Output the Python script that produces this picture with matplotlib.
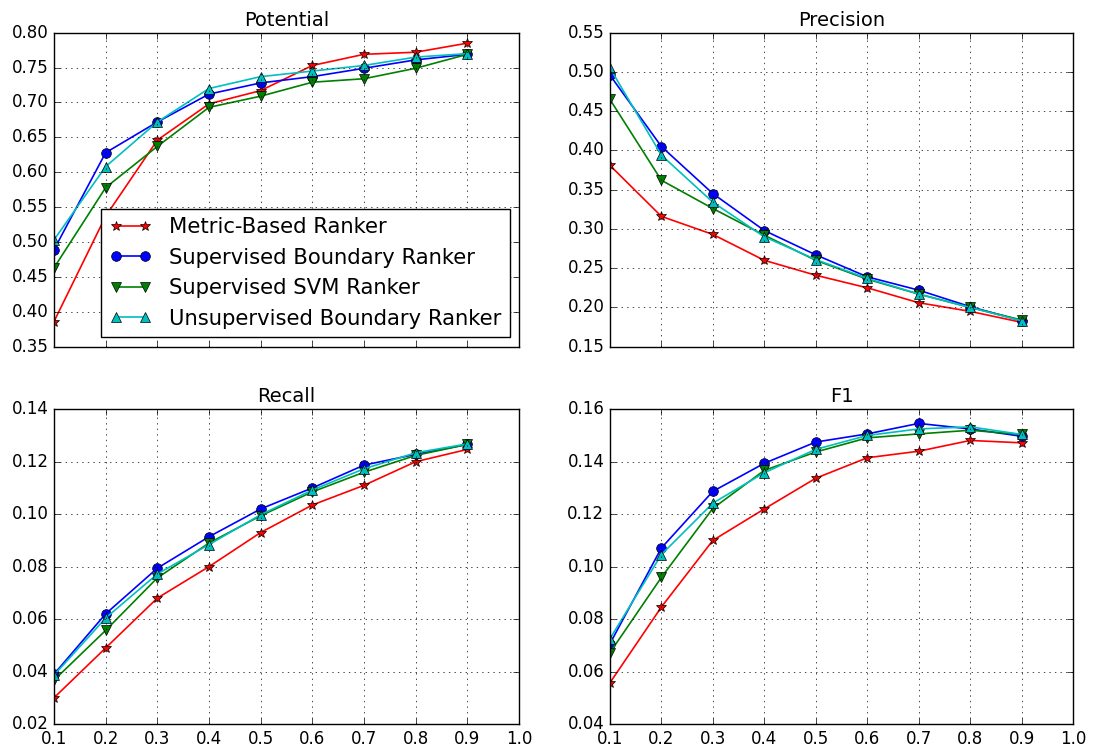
import matplotlib
matplotlib.use('Agg')
import matplotlib.pyplot as plt
import numpy as np

# thresholds on the x axis
thresholds = [0.1, 0.2, 0.3, 0.4, 0.5, 0.6, 0.7, 0.8, 0.9]

labels = ['Metric-Based Ranker', 'Supervised Boundary Ranker',
          'Supervised SVM Ranker', 'Unsupervised Boundary Ranker']

potential_metric = [0.386, 0.537, 0.646, 0.698, 0.717, 0.753, 0.769, 0.772, 0.785]
potential_sup_boundary = [0.489, 0.628, 0.672, 0.712, 0.728, 0.737, 0.749, 0.761, 0.769]
potential_svm = [0.463, 0.578, 0.637, 0.693, 0.709, 0.729, 0.734, 0.749, 0.769]
potential_unsup = [0.503, 0.608, 0.672, 0.720, 0.737, 0.745, 0.753, 0.765, 0.770]

precision_metric = [0.381, 0.316, 0.293, 0.260, 0.241, 0.225, 0.206, 0.195, 0.181]
precision_sup_boundary = [0.496, 0.405, 0.345, 0.298, 0.267, 0.239, 0.222, 0.201, 0.183]
precision_svm = [0.465, 0.362, 0.326, 0.292, 0.260, 0.236, 0.217, 0.200, 0.184]
precision_unsup = [0.505, 0.394, 0.334, 0.290, 0.261, 0.237, 0.217, 0.200, 0.183]

recall_metric = [0.030, 0.049, 0.068, 0.080, 0.093, 0.1035, 0.111, 0.120, 0.1247]
recall_sup_boundary = [0.039, 0.062, 0.0794, 0.0914, 0.102, 0.110, 0.1187, 0.1228, 0.1266]
recall_svm = [0.0367, 0.0557, 0.0757, 0.089, 0.0994, 0.1085, 0.116, 0.1224, 0.1266]
recall_unsup = [0.0386, 0.0604, 0.0772, 0.0884, 0.0998, 0.1092, 0.1173, 0.1234, 0.1268]

f1_metric = [0.0557, 0.0846, 0.110, 0.122, 0.1337, 0.1415, 0.144, 0.1481, 0.1472]
f1_sup_boundary = [0.0706, 0.1071, 0.1287, 0.1394, 0.1475, 0.1506, 0.1546, 0.1525, 0.1497]
f1_svm = [0.0672, 0.0959, 0.1222, 0.1367, 0.1437, 0.1491, 0.1506, 0.152, 0.1504]
f1_unsup = [0.0725, 0.1046, 0.1242, 0.1358, 0.1447, 0.150, 0.1525, 0.1533, 0.1504]

plt.style.use('classic')
plt.rcParams['font.family'] = ['DejaVu Sans']

styles = [('r', '*', 7), ('b', 'o', 7), ('g', 'v', 7), ('c', '^', 7)]

fig = plt.figure(figsize=(10.95, 7.53))
ax_pot = fig.add_axes([0.0493, 0.5396, 0.4247, 0.417])
ax_pre = fig.add_axes([0.557, 0.5396, 0.423, 0.417], sharex=ax_pot)
ax_rec = fig.add_axes([0.0493, 0.0385, 0.4247, 0.418], sharex=ax_pot)
ax_f1 = fig.add_axes([0.557, 0.0385, 0.423, 0.418], sharex=ax_pot)

panels = [
    (ax_pot, 'Potential', [potential_metric, potential_sup_boundary, potential_svm, potential_unsup], (0.35, 0.80), 0.05),
    (ax_pre, 'Precision', [precision_metric, precision_sup_boundary, precision_svm, precision_unsup], (0.15, 0.55), 0.05),
    (ax_rec, 'Recall', [recall_metric, recall_sup_boundary, recall_svm, recall_unsup], (0.02, 0.14), 0.02),
    (ax_f1, 'F1', [f1_metric, f1_sup_boundary, f1_svm, f1_unsup], (0.04, 0.16), 0.02),
]

for ax, title, series, ylim, step in panels:
    for vals, (color, marker, ms), label in zip(series, styles, labels):
        ax.plot(thresholds, vals, color=color, marker=marker, markersize=ms,
                linewidth=1.2, label=label)
    ax.set_title(title, fontsize=14)
    ax.set_ylim(*ylim)
    ax.set_yticks(np.arange(ylim[0], ylim[1] + step / 2, step))
    ax.grid(True)

ax_pot.set_xlim(0.1, 1.0)
ax_pot.set_xticks(np.arange(0.1, 1.01, 0.1))
plt.setp(ax_pot.get_xticklabels(), visible=False)
plt.setp(ax_pre.get_xticklabels(), visible=False)

ax_pot.legend(loc='lower right', fontsize=15.2, numpoints=2,
              borderaxespad=0.45)

fig.savefig('out.png', dpi=100)
